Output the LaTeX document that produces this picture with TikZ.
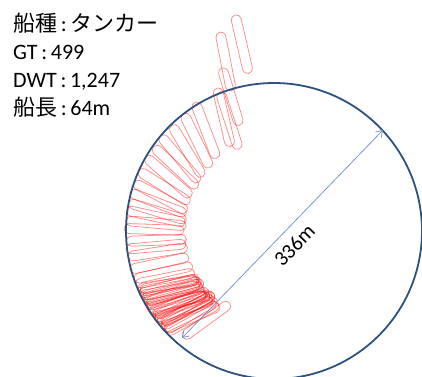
\documentclass[tikz,border=0pt]{standalone}
\usepackage{fontspec}
\setmainfont{Carlito}
\newfontfamily\jp{Noto Sans CJK JP}
\usetikzlibrary{positioning, calc, arrows.meta}
\definecolor{swingblue}{RGB}{44,82,128}
\definecolor{dimblue}{RGB}{122,152,200}

\begin{document}
\begin{tikzpicture}[x=1pt, y=1pt,
    hull/.style={draw=red, draw opacity=0.45, line width=0.75pt, rounded corners=5pt},
    info/.style={anchor=base west, inner sep=0pt, font=\fontsize{22}{26}\selectfont},
    dim/.style={{Straight Barb[length=6pt,width=8pt]}-{Straight Barb[length=6pt,width=8pt]}, draw=dimblue, line width=0.8pt}]
    \useasboundingbox (0,0) rectangle (422,376);
    \coordinate (ctr) at (274,145);

    % ship outlines: polar angle of the outer end / heading / radius
    \foreach \p/\q/\r in {100.2/103/219.5, 105.2/101/206.2, 107.7/107/171.1, 111.7/103/153.9,
        111.2/108/149, 121.5/111/151, 127.6/116/148, 134/121/147, 140/130/148,
        145/137/147, 150/139/148, 156/148/148, 161/152/148,
        165/159/149, 169/163/148, 172/168/149, 176/175/148, 179/178/150,
        184/182/148, 187/185/149, 190/189/148, 195/192/149, 199/193/148, 201/191/148}{
      \begin{scope}[shift={($(ctr)+(\p:\r)$)}, rotate=\q]
        \draw[hull] (-60,-5) rectangle (0,5);
      \end{scope}
    }
    % dense part at the bottom
    \pgfmathsetseed{7}
    \foreach \p in {203,203.7,...,223.5} {
      \pgfmathsetmacro\q{\p-14+6*rand}
      \pgfmathsetmacro\r{147+2*rand}
      \begin{scope}[shift={($(ctr)+(\p:\r)$)}, rotate=\q]
        \draw[hull] (-60,-5) rectangle (0,5);
      \end{scope}
    }
    \begin{scope}[shift={($(ctr)+(229.4:140)$)}, rotate=216]
      \draw[hull] (-58,-5) rectangle (0,5);
    \end{scope}

    \node (swing) [circle, draw=swingblue, line width=1.8pt, minimum size=296pt, inner sep=0pt] at (ctr) {};

    \coordinate (tipLo) at (182,38);
    \coordinate (tipHi) at (383,246);
    \draw[dim] (tipLo) -- node[midway, sloped, below=9pt, inner sep=0pt, font=\fontsize{21}{24}\selectfont] (diam) {336m} (tipHi);

    \node (kind) [info] at (13,345) {{\jp 船種}\,:\,{\jp タンカー}};
    \node (gt) [info] at (13,317) {GT\,:\,499};
    \node (dwt) [info] at (13,289) {DWT\,:\,1,247};
    \node (loa) [info] at (13,261) {{\jp 船長}\,:\,64m};
\end{tikzpicture}
\end{document}
